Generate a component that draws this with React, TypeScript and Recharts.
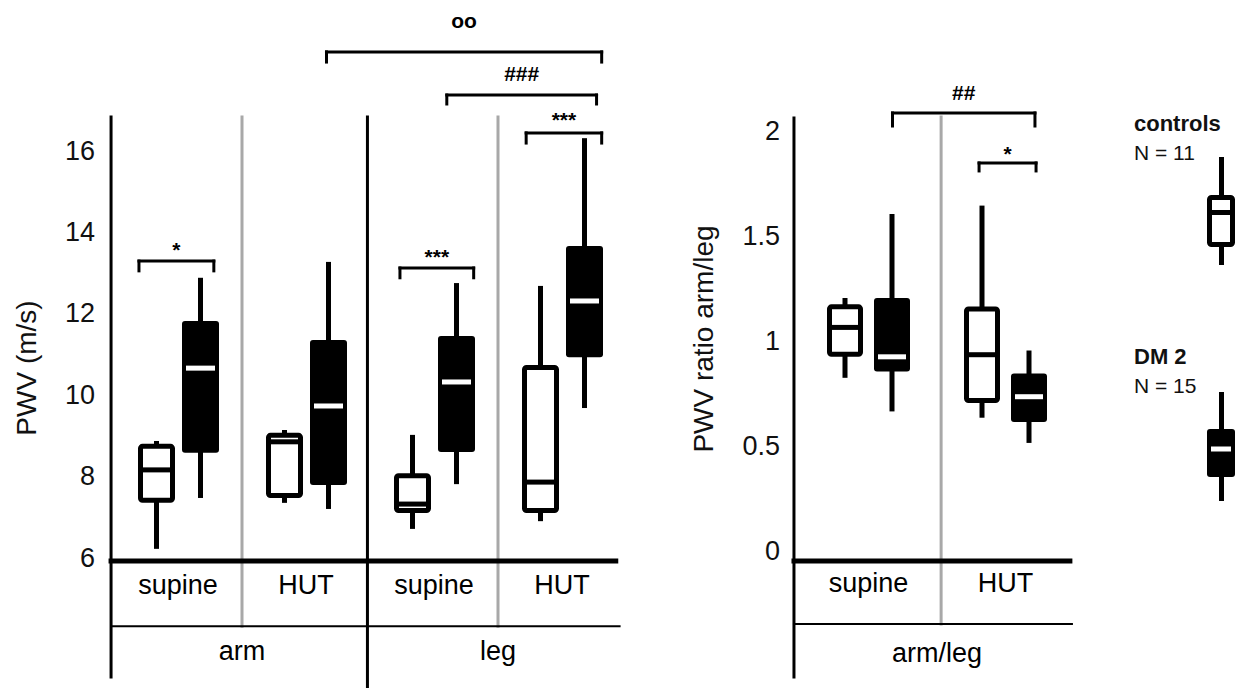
import React from "react";
import { Bar, ComposedChart, ReferenceDot, ReferenceLine, XAxis, YAxis } from "recharts";

const FONT = '"Liberation Sans", Arial, Helvetica, sans-serif';

// Box stats per category: [min, Q1, median, Q3, max]
const PWV_CATEGORIES = ["arm supine", "arm HUT", "leg supine", "leg HUT"];
const PWV_CONDITION_LABELS = ["supine", "HUT", "supine", "HUT"];
const PWV_SITE_LABELS = ["arm", "leg"];
const PWV_CONTROLS = [
  [6.2, 7.33, 8.14, 8.78, 8.85],
  [7.33, 7.45, 8.83, 9.05, 9.12],
  [6.69, 7.08, 7.3, 8.06, 9.0],
  [6.88, 7.08, 7.84, 10.72, 12.66],
];
const PWV_DM2 = [
  [7.45, 8.56, 10.64, 11.8, 12.86],
  [7.18, 7.77, 9.71, 11.33, 13.25],
  [7.79, 8.58, 10.3, 11.43, 12.73],
  [9.66, 10.91, 12.29, 13.64, 16.29],
];
const PWV_TICKS = [6, 8, 10, 12, 14, 16];

const RATIO_CATEGORIES = ["supine", "HUT"];
const RATIO_CONTROLS = [
  [0.82, 0.92, 1.06, 1.17, 1.2],
  [0.63, 0.7, 0.93, 1.16, 1.64],
];
const RATIO_DM2 = [
  [0.66, 0.85, 0.92, 1.2, 1.6],
  [0.51, 0.61, 0.73, 0.84, 0.95],
];
const RATIO_TICKS = [0, 0.5, 1, 1.5, 2];

// significance brackets, in (separator axis, value axis) units
const PWV_BRACKETS = [
  { text: "*", x0: 0.195, x1: 0.78, y: 13.27, leg: 13.03, ty: 13.55 },
  { text: "***", x0: 2.234, x1: 2.81, y: 13.1, leg: 12.86, ty: 13.38 },
  { text: "***", x0: 3.22, x1: 3.81, y: 16.42, leg: 16.17, ty: 16.75 },
  { text: "###", x0: 2.6, x1: 3.77, y: 17.35, leg: 17.13, ty: 17.89 },
  { text: "oo", x0: 1.66, x1: 3.81, y: 18.41, leg: 18.16, ty: 19.17 },
];
const RATIO_BRACKETS = [
  { text: "##", x0: 0.675, x1: 1.715, y: 2.081, leg: 2.019, ty: 2.176 },
  { text: "*", x0: 1.307, x1: 1.723, y: 1.843, leg: 1.805, ty: 1.888 },
];

function toRows(cats: string[], ctrl: number[][], dm: number[][]) {
  return cats.map((cat, i) => ({
    cat,
    pos: i + 0.5,
    ctrl: ctrl[i],
    dm: dm[i],
    ctrlRange: [ctrl[i][0], ctrl[i][4]],
    dmRange: [dm[i][0], dm[i][4]],
  }));
}

// Draws one box from the bar's pixel range (min..max) handed over by recharts
function BoxGlyph(props: any) {
  const { x, y, width, height, stats, dark } = props;
  if (stats == null || height == null) return null;
  const [lo, q1, med, q3, hi] = stats;
  const top = Math.min(y, y + height);
  const h = Math.abs(height);
  const py = (v: number) => top + ((hi - v) / (hi - lo)) * h;
  const cx = x + width / 2;
  return (
    <g>
      <rect x={cx - 2.5} y={py(hi)} width={5} height={py(lo) - py(hi)} fill="#000" />
      {dark ? (
        <>
          <rect x={x} y={py(q3)} width={width} height={py(q1) - py(q3)} rx={3} fill="#000" />
          <rect x={x + 4} y={py(med) - 2.5} width={width - 8} height={5} fill="#fff" />
        </>
      ) : (
        <>
          <rect
            x={x + 2.5}
            y={py(q3) + 2.5}
            width={width - 5}
            height={Math.max(py(q1) - py(q3) - 5, 0)}
            rx={2}
            fill="#fff"
            stroke="#000"
            strokeWidth={5}
          />
          <rect x={x + 2.5} y={py(med) - 2.5} width={width - 5} height={5} fill="#000" />
        </>
      )}
    </g>
  );
}

function seg(key: string, x0: number, y0: number, x1: number, y1: number, stroke: string, w: number) {
  return (
    <ReferenceLine
      key={key}
      xAxisId="sep"
      segment={[{ x: x0, y: y0 }, { x: x1, y: y1 }]}
      stroke={stroke}
      strokeWidth={w}
      strokeLinecap="square"
      ifOverflow="visible"
    />
  );
}

function txt(key: string, xAxisId: string, x: any, y: number, value: string, size: number, bold = false) {
  return (
    <ReferenceDot
      key={key}
      xAxisId={xAxisId}
      x={x}
      y={y}
      r={0}
      ifOverflow="visible"
      label={{ value, position: "center", fill: "#000", fontSize: size, fontWeight: bold ? 700 : 400 }}
    />
  );
}

function brackets(list: typeof PWV_BRACKETS, prefix: string) {
  return list.flatMap((b, i) => [
    seg(`${prefix}h${i}`, b.x0, b.y, b.x1, b.y, "#000", 3),
    seg(`${prefix}l${i}`, b.x0, b.y, b.x0, b.leg, "#000", 3),
    seg(`${prefix}r${i}`, b.x1, b.y, b.x1, b.leg, "#000", 3),
    txt(`${prefix}t${i}`, "sep", (b.x0 + b.x1) / 2, b.ty, b.text, 21, true),
  ]);
}

const GRAY = "#a8a8a8";

function PwvChart() {
  const rows = toRows(PWV_CATEGORIES, PWV_CONTROLS, PWV_DM2);
  const top = 16.81;
  return (
    <ComposedChart
      width={640}
      height={688}
      data={rows}
      margin={{ top: 0, right: 14, bottom: 0, left: 0 }}
      barSize={37}
      barGap={7}
    >
      <XAxis xAxisId="cat" dataKey="cat" hide />
      <XAxis xAxisId="sep" dataKey="pos" type="number" domain={[0, 4]} allowDataOverflow hide />
      <YAxis
        width={114}
        type="number"
        domain={[2.781, 19.685]}
        allowDataOverflow
        ticks={PWV_TICKS}
        interval={0}
        axisLine={false}
        tickLine={false}
        tickSize={0}
        tickMargin={19}
        tick={{ fill: "#111", fontSize: 27 }}
      />
      {seg("ax", -0.023, top, -0.023, 3.05, "#000", 3)}
      {seg("g1", 1, top, 1, 4.3, GRAY, 3)}
      {seg("b2", 1.98, top, 1.98, 2.781, "#000", 3)}
      {seg("g3", 3, top, 3, 4.3, GRAY, 3)}
      {seg("base", -0.023, 5.9, 3.92, 5.9, "#000", 5)}
      {seg("thin", -0.023, 4.3, 3.95, 4.3, "#000", 2)}
      {PWV_CATEGORIES.map((c, i) => txt(`c${i}`, "cat", c, 5.337, PWV_CONDITION_LABELS[i], 27))}
      {PWV_SITE_LABELS.map((s, i) => txt(`s${i}`, "sep", 1 + i * 2, 3.715, s, 27))}
      {brackets(PWV_BRACKETS, "pb")}
      <Bar
        xAxisId="cat"
        dataKey="ctrlRange"
        name="controls"
        isAnimationActive={false}
        shape={(p: any) => <BoxGlyph {...p} stats={p.payload.ctrl} dark={false} />}
      />
      <Bar
        xAxisId="cat"
        dataKey="dmRange"
        name="DM 2"
        isAnimationActive={false}
        shape={(p: any) => <BoxGlyph {...p} stats={p.payload.dm} dark />}
      />
    </ComposedChart>
  );
}

function RatioChart() {
  const rows = toRows(RATIO_CATEGORIES, RATIO_CONTROLS, RATIO_DM2);
  return (
    <ComposedChart
      width={420}
      height={688}
      data={rows}
      margin={{ top: 0, right: 26, bottom: 0, left: 0 }}
      barSize={36}
      barGap={11}
    >
      <XAxis xAxisId="cat" dataKey="cat" hide />
      <XAxis xAxisId="sep" dataKey="pos" type="number" domain={[0, 2]} allowDataOverflow hide />
      <YAxis
        width={120}
        type="number"
        domain={[-0.657, 2.619]}
        allowDataOverflow
        ticks={RATIO_TICKS}
        interval={0}
        axisLine={false}
        tickLine={false}
        tickSize={0}
        tickMargin={20}
        tick={{ fill: "#111", fontSize: 27 }}
      />
      {seg("ax", -0.044, 2.057, -0.044, -0.605, "#000", 3)}
      {seg("g1", 1.03, 2.062, 1.03, -0.352, GRAY, 3)}
      {seg("base", -0.044, -0.052, 1.97, -0.052, "#000", 5)}
      {seg("thin", -0.044, -0.352, 1.985, -0.352, "#000", 2)}
      {RATIO_CATEGORIES.map((c, i) => txt(`c${i}`, "cat", c, -0.152, c, 27))}
      {txt("site", "sep", 1, -0.486, "arm/leg", 27)}
      {brackets(RATIO_BRACKETS, "rb")}
      <Bar
        xAxisId="cat"
        dataKey="ctrlRange"
        name="controls"
        isAnimationActive={false}
        shape={(p: any) => <BoxGlyph {...p} stats={p.payload.ctrl} dark={false} />}
      />
      <Bar
        xAxisId="cat"
        dataKey="dmRange"
        name="DM 2"
        isAnimationActive={false}
        shape={(p: any) => <BoxGlyph {...p} stats={p.payload.dm} dark />}
      />
    </ComposedChart>
  );
}

function AxisTitle({ text, cx, cy }: { text: string; cx: number; cy: number }) {
  return (
    <div
      style={{
        position: "absolute",
        left: cx,
        top: cy,
        transform: "translate(-50%, -50%) rotate(-90deg)",
        fontSize: 28,
        lineHeight: 1,
        whiteSpace: "nowrap",
        color: "#111",
      }}
    >
      {text}
    </div>
  );
}

// legend: group name, n, and a sample box
function Legend() {
  const label = (top: number, name: string, n: string) => (
    <div style={{ position: "absolute", left: 1134, top, lineHeight: 1, color: "#111" }}>
      <div style={{ fontSize: 22, fontWeight: 700 }}>{name}</div>
      <div style={{ fontSize: 21, marginTop: 7 }}>{n}</div>
    </div>
  );
  return (
    <>
      {label(113, "controls", "N = 11")}
      {label(346, "DM 2", "N = 15")}
      <svg style={{ position: "absolute", left: 1190, top: 140 }} width={46} height={380}>
        <g transform="translate(-1190,-140)">
          <rect x={1219} y={157} width={5} height={108} fill="#000" />
          <rect x={1209.5} y={197.5} width={23} height={47} rx={2} fill="#fff" stroke="#000" strokeWidth={5} />
          <rect x={1209.5} y={210} width={23} height={5} fill="#000" />
          <rect x={1219} y={392} width={5} height={109} fill="#000" />
          <rect x={1207} y={429} width={28} height={48} rx={3} fill="#000" />
          <rect x={1211} y={446.5} width={20} height={5} fill="#fff" />
        </g>
      </svg>
    </>
  );
}

export default function App() {
  return (
    <div
      style={{
        position: "absolute",
        left: 0,
        top: 0,
        width: 1236,
        height: 688,
        background: "#fff",
        fontFamily: FONT,
        overflow: "hidden",
      }}
    >
      <div style={{ position: "absolute", left: 0, top: 0 }}>
        <PwvChart />
      </div>
      <div style={{ position: "absolute", left: 680, top: 0 }}>
        <RatioChart />
      </div>
      <AxisTitle text="PWV (m/s)" cx={27} cy={368} />
      <AxisTitle text="PWV ratio arm/leg" cx={704} cy={339} />
      <Legend />
    </div>
  );
}
